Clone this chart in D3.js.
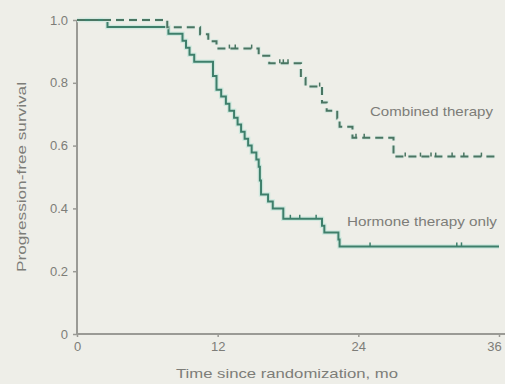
<!DOCTYPE html>
<html><head><meta charset="utf-8">
<script src="https://cdn.jsdelivr.net/npm/d3@7"></script>
<style>
html,body{margin:0;padding:0;background:#eeeee8;}
svg{display:block;}
text{font-family:"Liberation Sans Narrow","Liberation Sans",Arial,sans-serif;fill:#7d7d78;}
</style></head>
<body><svg id="c" width="505" height="384"></svg>
<script>
// Hormone therapy only (solid)
const hormoneTimes = [0, 2.6, 7.8, 9.0, 9.3, 9.6, 10.0, 11.6, 11.9, 12.3, 12.7, 13.0, 13.4, 13.7, 14.0, 14.3, 14.6, 14.9, 15.3, 15.5, 15.6, 15.7, 16.3, 16.7, 17.6, 20.9, 21.1, 22.3, 22.4];
const hormoneSurv  = [1.0, 0.978, 0.956, 0.934, 0.912, 0.889, 0.867, 0.822, 0.778, 0.756, 0.733, 0.711, 0.689, 0.667, 0.644, 0.622, 0.600, 0.578, 0.556, 0.533, 0.489, 0.444, 0.422, 0.400, 0.367, 0.345, 0.323, 0.301, 0.279];
const hormoneCensor = [18.2, 19.0, 20.4, 25.0, 32.4, 32.8];
// Combined therapy (dashed)
const combinedTimes = [0, 7.7, 10.5, 11.2, 11.9, 15.5, 16.4, 19.1, 19.5, 20.9, 21.3, 22.2, 22.4, 23.5, 27.0];
const combinedSurv  = [1.0, 0.977, 0.955, 0.932, 0.909, 0.886, 0.862, 0.815, 0.788, 0.737, 0.711, 0.686, 0.660, 0.625, 0.565];
const combinedCensor = [13.0, 13.5, 14.9, 17.3, 17.6, 18.0, 20.7, 23.8, 24.5, 28.0, 29.3, 30.2, 30.6, 32.0, 33.0, 34.5];
const xTicks = [0, 12, 24, 36];
const yTicks = [0, 0.2, 0.4, 0.6, 0.8, 1.0];
const endTime = 36;

const svg = d3.select("#c");
const x = d3.scaleLinear().domain([0, 36]).range([77, 499]);
const y = d3.scaleLinear().domain([0, 1]).range([334, 20]);

function survAt(times, surv, t){ let s = surv[0]; for (let i=0;i<times.length;i++){ if (times[i] <= t) s = surv[i]; } return s; }

// axes
const axisColor = "#9a9a95";
const yAxis = svg.append("g").attr("transform", "translate(77,0)")
  .call(d3.axisLeft(y).tickValues(yTicks).tickSize(4).tickPadding(5)
    .tickFormat(d => d === 0 ? "0" : d3.format(".1f")(d)));
const xAxis = svg.append("g").attr("transform", "translate(0,334)")
  .call(d3.axisBottom(x).tickValues(xTicks).tickSize(3).tickPadding(5));
[yAxis, xAxis].forEach(g => {
  g.select(".domain").attr("stroke", axisColor).attr("stroke-width", 2);
  g.selectAll(".tick line").attr("stroke", axisColor).attr("stroke-width", 1.5);
  g.selectAll(".tick text").style("font-size", "13px").attr("fill", "#7d7d78")
    .style("font-family", '"Liberation Sans Narrow","Liberation Sans",Arial,sans-serif');
});
// keep the last x label inside the window
xAxis.selectAll(".tick text").filter(d => d === 36).attr("dx", "-5");
yAxis.select(".domain").attr("d", "M0,334V20");
xAxis.select(".domain").attr("d", "M77,0H505");

const line = d3.line().curve(d3.curveStepAfter).x(d => x(d[0])).y(d => y(d[1]));
const hData = hormoneTimes.map((t,i)=>[t, hormoneSurv[i]]).concat([[endTime, hormoneSurv[hormoneSurv.length-1]]]);
const cData = combinedTimes.map((t,i)=>[t, combinedSurv[i]]).concat([[endTime, combinedSurv[combinedSurv.length-1]]]);

// halo + solid line
svg.append("path").datum(hData).attr("d", line).attr("fill","none").attr("stroke","#cfe8de").attr("stroke-width",4.5);
svg.append("path").datum(hData).attr("d", line).attr("fill","none").attr("stroke","#3e7f6b").attr("stroke-width",2);
// dashed line
svg.append("path").datum(cData).attr("d", line).attr("fill","none").attr("stroke","#d6e9e1").attr("stroke-width",4).attr("stroke-dasharray","8,5");
svg.append("path").datum(cData).attr("d", line).attr("fill","none").attr("stroke","#4a7562").attr("stroke-width",2).attr("stroke-dasharray","8,5");

// censor marks
svg.selectAll(".hc").data(hormoneCensor).enter().append("line")
  .attr("x1", d=>x(d)).attr("x2", d=>x(d))
  .attr("y1", d=>y(survAt(hormoneTimes, hormoneSurv, d))).attr("y2", d=>y(survAt(hormoneTimes, hormoneSurv, d))-4)
  .attr("stroke","#3e7f6b").attr("stroke-width",1.5);
svg.selectAll(".cc").data(combinedCensor).enter().append("line")
  .attr("x1", d=>x(d)).attr("x2", d=>x(d))
  .attr("y1", d=>y(survAt(combinedTimes, combinedSurv, d))).attr("y2", d=>y(survAt(combinedTimes, combinedSurv, d))-4)
  .attr("stroke","#4a7562").attr("stroke-width",1.5);

// labels
svg.append("text").attr("x", 370).attr("y", 116).style("font-size","13px").attr("textLength",123).attr("lengthAdjust","spacingAndGlyphs").text("Combined therapy");
svg.append("text").attr("x", 347).attr("y", 226).style("font-size","13px").attr("textLength",150).attr("lengthAdjust","spacingAndGlyphs").text("Hormone therapy only");
svg.append("text").attr("x", 176).attr("y", 378).style("font-size","13px").attr("textLength",222).attr("lengthAdjust","spacingAndGlyphs").text("Time since randomization, mo");
svg.append("text").attr("transform","translate(26,272) rotate(-90)").style("font-size","13px").attr("textLength",190).attr("lengthAdjust","spacingAndGlyphs").text("Progression-free survival");
</script></body></html>
